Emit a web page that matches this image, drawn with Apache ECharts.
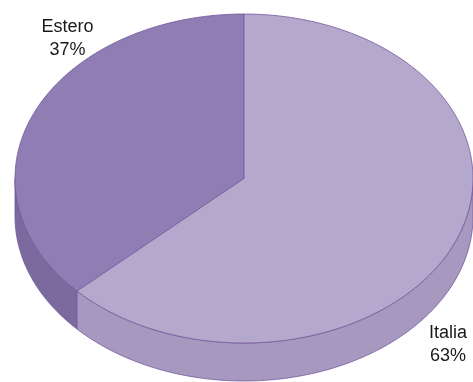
<!DOCTYPE html>
<html>
<head>
<meta charset="utf-8">
<script src="https://cdn.jsdelivr.net/npm/echarts@6/dist/echarts.min.js"></script>
<style>
  html, body { margin: 0; padding: 0; background: #fff; }
  #chart { width: 473px; height: 382px; }
</style>
</head>
<body>
<div id="chart"></div>
<script>
// Share of sales by market
const categories = ['Estero', 'Italia'];
const values = [37, 63];

// Styling per slice (top face, side wall) and label anchors
const topColors = ['#8f7db4', '#b5a8cd'];
const sideColors = ['#7c6a9f', '#a798c0'];
const edgeColor = '#74599a';
const labelAnchors = [[67.5, 38.5], [448, 345]];

// Tilted-disc geometry
const geo = { cx: 244, cy: 178.5, rx: 229, ry: 164.5, depth: 38 };

const total = values.reduce((a, b) => a + b, 0);

function pt(deg, dy) {
  const r = deg * Math.PI / 180;
  return [geo.cx + geo.rx * Math.cos(r), geo.cy - geo.ry * Math.sin(r) + (dy || 0)];
}
function arc(a0, a1, dy) {
  const pts = [];
  const n = Math.max(2, Math.ceil(Math.abs(a1 - a0) / 1));
  for (let i = 0; i <= n; i++) pts.push(pt(a0 + (a1 - a0) * i / n, dy));
  return pts;
}

// Angles run counter-clockwise from 12 o'clock for the first slice
function sliceAngles(idx) {
  let start = 90;
  for (let i = 0; i < idx; i++) start += values[i] / total * 360;
  return [start, start + values[idx] / total * 360];
}

const chart = echarts.init(document.getElementById('chart'), null, { renderer: 'canvas' });

chart.setOption({
  animation: false,
  series: [{
    type: 'custom',
    coordinateSystem: 'none',
    data: categories.map((c, i) => ({ name: c, value: values[i] })),
    renderItem: function (params, api) {
      const i = params.dataIndex;
      const [a0, a1] = sliceAngles(i);
      const children = [];
      // Front wall: visible part lies between 180 and 360 degrees
      for (let k = -1; k <= 1; k++) {
        const lo = Math.max(a0, 180 + 360 * k);
        const hi = Math.min(a1, 360 + 360 * k);
        if (hi > lo) {
          const top = arc(lo, hi, 0);
          const bot = arc(hi, lo, geo.depth);
          children.push({
            type: 'polygon',
            shape: { points: top.concat(bot) },
            style: { fill: sideColors[i], stroke: edgeColor, lineWidth: 0.8 }
          });
        }
      }
      // Top face
      const face = [[geo.cx, geo.cy]].concat(arc(a0, a1, 0));
      children.push({
        type: 'polygon',
        shape: { points: face },
        style: { fill: topColors[i], stroke: edgeColor, lineWidth: 0.8 },
        z2: 10
      });
      const pct = Math.round(api.value(0) / total * 100);
      children.push({
        type: 'text',
        x: labelAnchors[i][0],
        y: labelAnchors[i][1],
        style: {
          text: categories[i] + '\n' + pct + '%',
          fill: '#1a1a1a',
          font: '18px "Liberation Sans", Arial, sans-serif',
          align: 'center',
          verticalAlign: 'middle',
          lineHeight: 23
        },
        z2: 20
      });
      return { type: 'group', children: children };
    }
  }]
});
</script>
</body>
</html>
